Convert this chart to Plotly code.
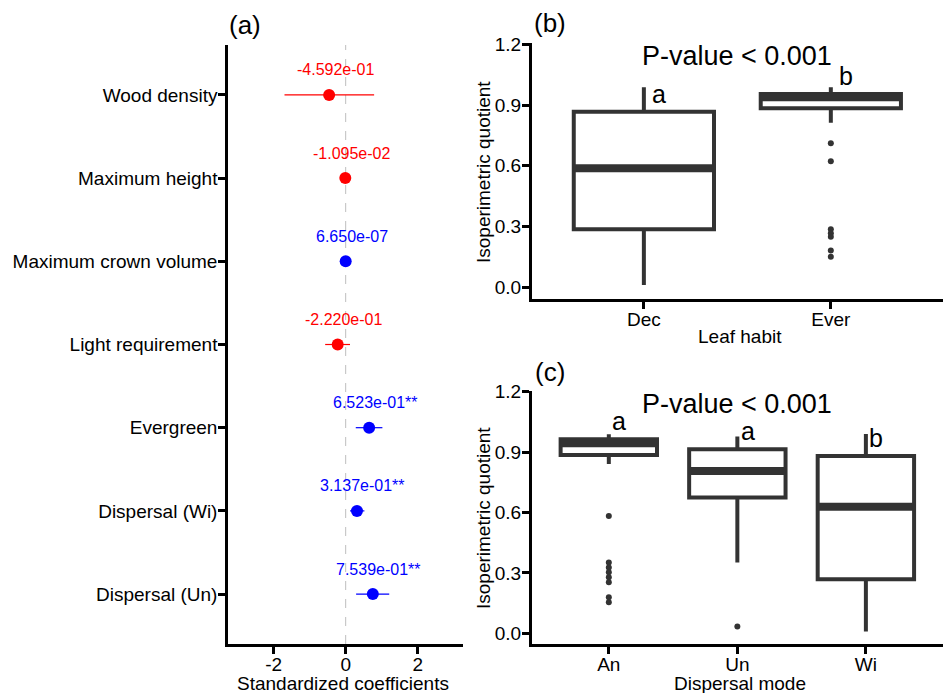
import plotly.graph_objects as go

# ---------------- data ----------------
# (a) standardized coefficients
predictors = ["Wood density", "Maximum height", "Maximum crown volume",
              "Light requirement", "Evergreen", "Dispersal (Wi)", "Dispersal (Un)"]
estimates = [-0.4592, -0.01095, 6.650e-07, -0.2220, 0.6523, 0.3137, 0.7539]
ci_low = [-1.70, -0.06, -0.02, -0.57, 0.28, 0.12, 0.29]
ci_high = [0.79, 0.04, 0.02, 0.12, 1.02, 0.52, 1.21]
stars = ["", "", "", "", "**", "**", "**"]

# (b) leaf habit box statistics
leaf_groups = ["Dec", "Ever"]
leaf_q1 = [0.286, 0.884]
leaf_median = [0.588, 0.938]
leaf_q3 = [0.867, 0.955]
leaf_low = [0.011, 0.813]
leaf_high = [0.988, 0.988]
leaf_outliers = [[], [0.711, 0.622, 0.286, 0.267, 0.250, 0.181, 0.151]]
leaf_letters = ["a", "b"]

# (c) dispersal mode box statistics
disp_groups = ["An", "Un", "Wi"]
disp_q1 = [0.886, 0.674, 0.268]
disp_median = [0.944, 0.806, 0.629]
disp_q3 = [0.964, 0.914, 0.881]
disp_low = [0.841, 0.351, 0.008]
disp_high = [0.989, 0.977, 0.990]
disp_outliers = [[0.583, 0.351, 0.326, 0.303, 0.278, 0.253, 0.179, 0.154], [0.033], []]
disp_letters = ["a", "a", "b"]

y_ticks = [0.0, 0.3, 0.6, 0.9, 1.2]
coef_ticks = [-2, 0, 2]

# ---------------- style ----------------
W, H = 952, 693
FONT = "Liberation Sans, Arial, sans-serif"
DARK = "#333333"
RED = "#FF0000"
BLUE = "#0000FF"


def px_x(p):
    return p / W


def px_y(p):
    return 1 - p / H


fig = go.Figure()

# ---------- panel (a) ----------
n = len(predictors)
rows = [n - i for i in range(n)]  # first predictor on top
colors = [RED if v < 0 else BLUE for v in estimates]
for r, est, lo, hi, col in zip(rows, estimates, ci_low, ci_high, colors):
    fig.add_trace(go.Scatter(
        x=[est], y=[r], mode="markers",
        marker=dict(size=12, color=col),
        error_x=dict(type="data", symmetric=False, array=[hi - est],
                     arrayminus=[est - lo], color=col, thickness=1.2, width=0),
        xaxis="x", yaxis="y", showlegend=False, hoverinfo="skip"))

annotations = []
for r, est, st, col in zip(rows, estimates, stars, colors):
    annotations.append(dict(
        x=est, y=r, xref="x", yref="y", text=f"{est:.3e}{st}",
        showarrow=False, font=dict(size=16, color=col, family=FONT),
        xanchor="center", yanchor="middle", yshift=25, xshift=6))

shapes = [dict(type="line", xref="x", yref="y domain", x0=0, x1=0, y0=0, y1=1,
               line=dict(color="#BEBEBE", width=1, dash="dash"), layer="below")]


# ---------- box panels ----------
def add_boxes(xa, ya, q1s, meds, q3s, lows, highs, outs, letters, nudge):
    for i, (q1, md, q3, lo, hi, out, let) in enumerate(
            zip(q1s, meds, q3s, lows, highs, outs, letters)):
        xc = i + 1
        fig.add_trace(go.Box(
            x=[xc], q1=[q1], median=[md], q3=[q3], lowerfence=[lo], upperfence=[hi],
            width=0.75, whiskerwidth=0, fillcolor="white",
            line=dict(color=DARK, width=4), boxpoints=False,
            xaxis=xa, yaxis=ya, showlegend=False, hoverinfo="skip"))
        # thicker median bar
        fig.add_trace(go.Scatter(
            x=[xc - 0.375, xc + 0.375], y=[md, md], mode="lines",
            line=dict(color=DARK, width=8), xaxis=xa, yaxis=ya,
            showlegend=False, hoverinfo="skip"))
        if out:
            fig.add_trace(go.Scatter(
                x=[xc] * len(out), y=out, mode="markers",
                marker=dict(size=6, color=DARK), xaxis=xa, yaxis=ya,
                showlegend=False, hoverinfo="skip"))
        annotations.append(dict(
            x=xc + nudge, y=q3, xref=xa, yref=ya, text=let, showarrow=False,
            font=dict(size=25, color="black", family=FONT),
            xanchor="center", yanchor="bottom", yshift=2))


add_boxes("x2", "y2", leaf_q1, leaf_median, leaf_q3, leaf_low, leaf_high,
          leaf_outliers, leaf_letters, 0.08)
add_boxes("x3", "y3", disp_q1, disp_median, disp_q3, disp_low, disp_high,
          disp_outliers, disp_letters, 0.08)

# P-value labels
for xa, ya, groups in [("x2", "y2", leaf_groups), ("x3", "y3", disp_groups)]:
    annotations.append(dict(x=(1 + len(groups)) / 2, y=1.14, xref=xa, yref=ya,
                            text="P-value < 0.001", showarrow=False,
                            xanchor="center", yanchor="middle",
                            font=dict(size=27, color="black", family=FONT)))

# panel tags
for tag, cx, cy in [("(a)", 245, 25), ("(b)", 550, 23), ("(c)", 550, 372)]:
    annotations.append(dict(x=px_x(cx), y=px_y(cy), xref="paper", yref="paper",
                            text=tag, showarrow=False,
                            font=dict(size=26, color="black", family=FONT),
                            xanchor="center", yanchor="middle"))

# axis titles
title_font = dict(size=19, color="black", family=FONT)
for txt, cx, cy, ang in [("Standardized coefficients", 343, 683, 0),
                         ("Leaf habit", 740, 337, 0),
                         ("Dispersal mode", 740, 683, 0),
                         ("Isoperimetric quotient", 483, 172, -90),
                         ("Isoperimetric quotient", 483, 518, -90)]:
    annotations.append(dict(x=px_x(cx), y=px_y(cy), xref="paper", yref="paper",
                            text=txt, textangle=ang, showarrow=False, font=title_font,
                            xanchor="center", yanchor="middle"))

axis_common = dict(showline=True, linecolor="black", linewidth=2.5,
                   ticks="outside", ticklen=7, tickwidth=3, tickcolor="black",
                   showgrid=False, zeroline=False, mirror=False, automargin=False,
                   tickfont=dict(size=19, color="black", family=FONT))
x_common = dict(ticklabelstandoff=-6, **axis_common)
y_common = dict(ticklabelstandoff=-3, **axis_common)

fig.update_layout(
    template="none",
    width=W, height=H, margin=dict(l=0, r=0, t=0, b=0, pad=0),
    paper_bgcolor="white", plot_bgcolor="white",
    font=dict(family=FONT, color="black"),
    showlegend=False,
    xaxis=dict(domain=[px_x(228), px_x(463)], range=[-3.27, 3.26],
               tickvals=coef_ticks, ticktext=[str(t) for t in coef_ticks],
               anchor="y", **x_common),
    yaxis=dict(domain=[px_y(644), px_y(45)], range=[0.4, n + 0.6],
               tickvals=rows, ticktext=predictors, anchor="x", **y_common),
    xaxis2=dict(domain=[px_x(531.7), px_x(943)], range=[0.4, len(leaf_groups) + 0.6],
                tickvals=list(range(1, len(leaf_groups) + 1)), ticktext=leaf_groups,
                anchor="y2", **x_common),
    yaxis2=dict(domain=[px_y(299), px_y(43.3)], range=[-0.058, 1.205],
                tickvals=y_ticks, ticktext=[f"{t:.1f}" for t in y_ticks],
                anchor="x2", **y_common),
    xaxis3=dict(domain=[px_x(531.7), px_x(943)], range=[0.4, len(disp_groups) + 0.6],
                tickvals=list(range(1, len(disp_groups) + 1)), ticktext=disp_groups,
                anchor="y3", **x_common),
    yaxis3=dict(domain=[px_y(644.3), px_y(390.7)], range=[-0.055, 1.205],
                tickvals=y_ticks, ticktext=[f"{t:.1f}" for t in y_ticks],
                anchor="x3", **y_common),
    annotations=annotations, shapes=shapes,
)

fig.write_html("out.html")
